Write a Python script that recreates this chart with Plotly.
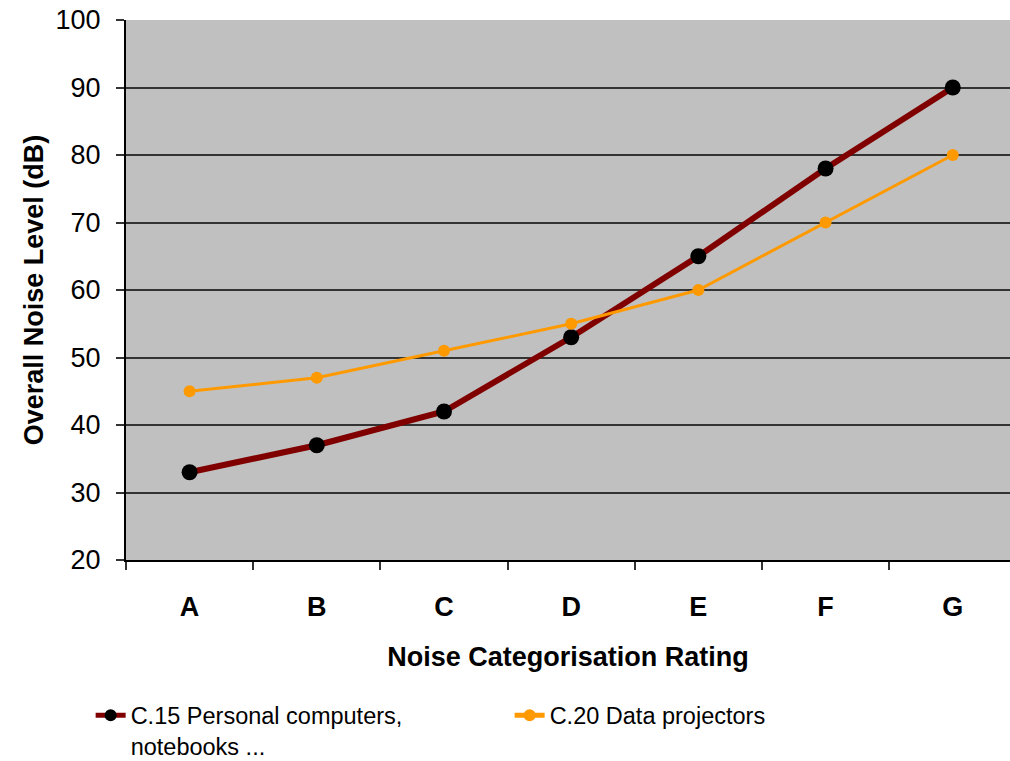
import plotly.graph_objects as go

# Noise categorisation ratings and overall noise level (dB) per product group
ratings = ["A", "B", "C", "D", "E", "F", "G"]
pc_notebooks = [33, 37, 42, 53, 65, 78, 90]
data_projectors = [45, 47, 51, 55, 60, 70, 80]
y_ticks = [20, 30, 40, 50, 60, 70, 80, 90, 100]

FONT = "Liberation Sans, Arial, sans-serif"

fig = go.Figure()
fig.add_trace(go.Scatter(
    x=ratings, y=pc_notebooks, mode="lines+markers",
    name="C.15 Personal computers,<br>notebooks ...",
    line=dict(color="#800000", width=6),
    marker=dict(color="#000000", size=16),
))
fig.add_trace(go.Scatter(
    x=ratings, y=data_projectors, mode="lines+markers",
    name="C.20 Data projectors",
    line=dict(color="#FF9900", width=3),
    marker=dict(color="#FF9900", size=12),
))

fig.update_layout(
    width=1010, height=761,
    margin=dict(l=126, r=0, t=20, b=201, autoexpand=False),
    paper_bgcolor="#FFFFFF",
    plot_bgcolor="#C0C0C0",
    font=dict(family=FONT, color="#000000", size=27),
    showlegend=True,
    legend=dict(
        orientation="h", x=-0.04, xanchor="left", y=-0.247, yanchor="top",
        font=dict(size=23.5, family=FONT, color="#000000"),
        entrywidth=374, entrywidthmode="pixels", valign="top",
        itemsizing="constant", borderwidth=0,
        bgcolor="rgba(0,0,0,0)", traceorder="normal",
    ),
    xaxis=dict(
        type="category", categoryorder="array", categoryarray=ratings,
        range=[-0.5, 6.45], tickson="boundaries",
        ticks="outside", ticklen=8, tickwidth=2, tickcolor="#333333",
        showline=True, linecolor="#000000", linewidth=2,
        showgrid=False, zeroline=False,
        tickfont=dict(size=27, family=FONT, color="#000000", weight="bold"),
        ticklabelstandoff=22,
        title=dict(text="<b>Noise Categorisation Rating</b>",
                   font=dict(size=27, family=FONT, color="#000000"), standoff=26),
    ),
    yaxis=dict(
        range=[20, 100], tickvals=y_ticks,
        ticks="outside", ticklen=8, tickwidth=2, tickcolor="#333333",
        showline=True, linecolor="#000000", linewidth=2,
        showgrid=True, gridcolor="#333333", gridwidth=2, zeroline=False,
        tickfont=dict(size=27, family=FONT, color="#000000"),
        ticklabelstandoff=10,
        title=dict(text="<b>Overall Noise Level (dB)</b>",
                   font=dict(size=27, family=FONT, color="#000000"), standoff=4),
    ),
)

fig.write_html("out.html")
